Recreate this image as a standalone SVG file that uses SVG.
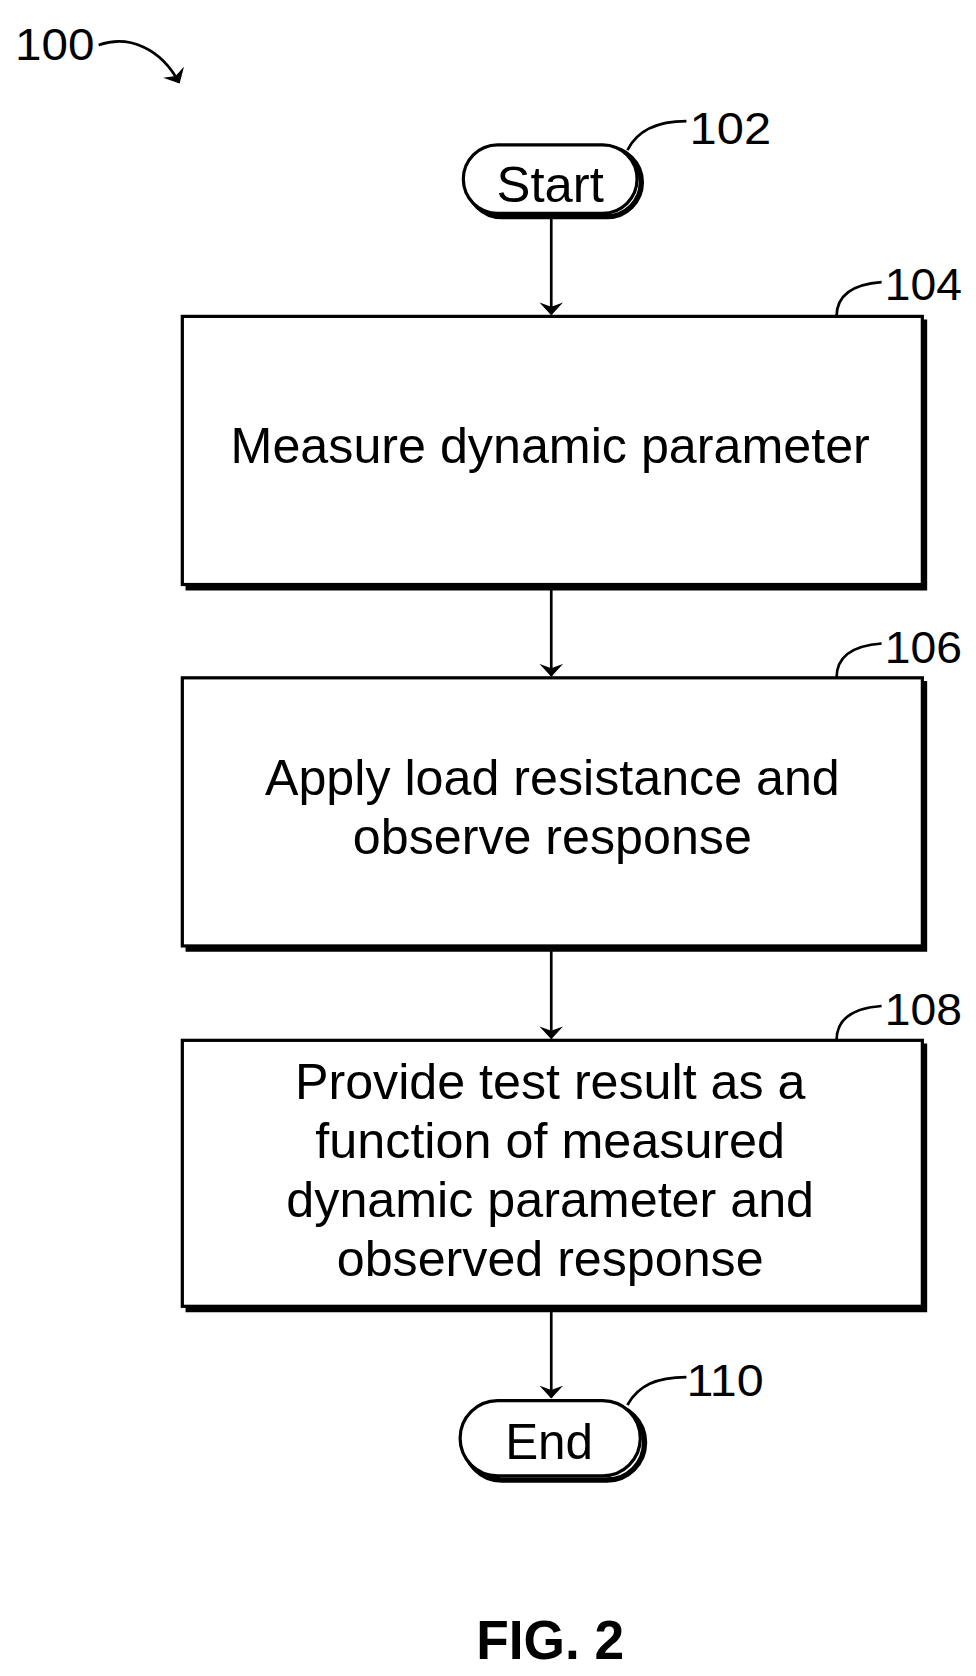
<svg xmlns="http://www.w3.org/2000/svg" width="976" height="1676" viewBox="0 0 976 1676">
<style>
text{font-family:"Liberation Sans Narrow","Liberation Sans",Arial,sans-serif;fill:#000}
.t{font-size:46px;text-anchor:middle}
.r{font-size:42px}
.box{fill:#fff;stroke:#000;stroke-width:3}
.sh{fill:none;stroke:#000;stroke-width:5}
.ln{fill:none;stroke:#000;stroke-width:2.5}
</style>
<defs><marker id="ah" markerWidth="12" markerHeight="20" refX="6" refY="18" orient="auto" markerUnits="userSpaceOnUse"><path d="M0,0 L12,0 L6,20 Z" fill="#000" transform="rotate(-90 6 10)"/></marker>
<marker id="a2" viewBox="0 0 12 22" markerWidth="12" markerHeight="22" refX="11" refY="11" orient="auto" markerUnits="userSpaceOnUse"><path d="M0,0 L12,11 L0,22 L4,11 Z" fill="#000"/></marker></defs>
<rect width="976" height="1676" fill="#fff"/>
<g transform="scale(1.0725)">
<g id="connectors">
<path class="ln" d="M514,200 V293" marker-end="url(#a2)"/>
<path class="ln" d="M514,547 V630" marker-end="url(#a2)"/>
<path class="ln" d="M514,884 V968" marker-end="url(#a2)"/>
<path class="ln" d="M514,1220 V1303" marker-end="url(#a2)"/>
<path class="ln" d="M92,42 C120,32 150,45 167,77" marker-end="url(#a2)"/>
</g>
<g id="n100"><text class="r" x="14" y="56" textLength="74" lengthAdjust="spacingAndGlyphs">100</text></g>
<g id="n102">
<rect x="436" y="138" width="162" height="64" rx="32" class="sh"/>
<rect x="432" y="135" width="162" height="64" rx="32" class="box"/>
<text class="t" x="513" y="188" textLength="100" lengthAdjust="spacingAndGlyphs">Start</text>
<path class="ln" d="M585,140 C595,120 615,113 640,113"/>
<text class="r" x="643" y="134" textLength="76" lengthAdjust="spacingAndGlyphs">102</text>
</g>
<g id="n104">
<path class="sh" d="M862,298 V548 H173"/>
<rect x="170" y="295" width="690" height="250" class="box"/>
<text class="t" x="513" y="432" textLength="596" lengthAdjust="spacingAndGlyphs">Measure dynamic parameter</text>
<path class="ln" d="M780,295 C780,275 795,265 822,263"/>
<text class="r" x="825" y="280" textLength="72" lengthAdjust="spacingAndGlyphs">104</text>
</g>
<g id="n106">
<path class="sh" d="M862,635 V885 H173"/>
<rect x="170" y="632" width="690" height="250" class="box"/>
<text class="t" x="515" y="741" textLength="536" lengthAdjust="spacingAndGlyphs">Apply load resistance and</text>
<text class="t" x="515" y="796" textLength="372" lengthAdjust="spacingAndGlyphs">observe response</text>
<path class="ln" d="M780,632 C780,612 795,602 822,600"/>
<text class="r" x="825" y="618" textLength="72" lengthAdjust="spacingAndGlyphs">106</text>
</g>
<g id="n108">
<path class="sh" d="M862,973 V1221 H173"/>
<rect x="170" y="970" width="690" height="248" class="box"/>
<text class="t" x="513" y="1025" textLength="476" lengthAdjust="spacingAndGlyphs">Provide test result as a</text>
<text class="t" x="513" y="1080" textLength="438" lengthAdjust="spacingAndGlyphs">function of measured</text>
<text class="t" x="513" y="1135" textLength="492" lengthAdjust="spacingAndGlyphs">dynamic parameter and</text>
<text class="t" x="513" y="1190" textLength="398" lengthAdjust="spacingAndGlyphs">observed response</text>
<path class="ln" d="M780,970 C780,950 795,940 822,938"/>
<text class="r" x="825" y="956" textLength="72" lengthAdjust="spacingAndGlyphs">108</text>
</g>
<g id="n110">
<rect x="433" y="1310" width="168" height="70" rx="35" class="sh"/>
<rect x="429" y="1306" width="168" height="70" rx="35" class="box"/>
<text class="t" x="512" y="1360" textLength="82" lengthAdjust="spacingAndGlyphs">End</text>
<path class="ln" d="M585,1310 C595,1292 612,1284 640,1284"/>
<text class="r" x="640" y="1302" textLength="72" lengthAdjust="spacingAndGlyphs">110</text>
</g>
<text x="513" y="1547" style="font-size:52px;font-weight:bold;text-anchor:middle" textLength="138" lengthAdjust="spacingAndGlyphs">FIG. 2</text>
</g>
</svg>
